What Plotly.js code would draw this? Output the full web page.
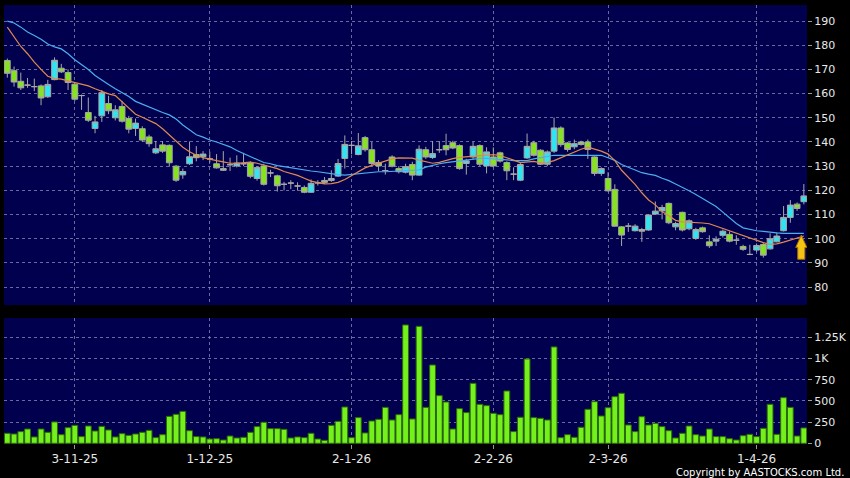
<!DOCTYPE html>
<html><head><meta charset="utf-8">
<script src="https://cdn.plot.ly/plotly-3.0.1.min.js"></script>
<style>html,body{margin:0;padding:0;background:#000;}#chart{width:850px;height:478px;}</style>
</head><body><div id="chart"></div>
<script>
// ---- data ----
const opens = [173.7,169.5,165.1,163.5,162.9,163.2,158.7,165.8,170.5,168.7,163.9,159.2,152.2,145.6,150.8,155.9,150.0,154.7,149.7,145.6,
145.5,142.1,135.5,138.8,138.6,130.0,126.4,131.0,134.8,133.9,133.0,131.0,129.0,130.6,130.1,131.0,131.3,124.9,130.1,127.2,
126.0,122.5,123.0,121.8,121.2,119.2,123.1,124.1,124.1,125.9,133.2,138.6,134.8,141.8,136.8,131.5,128.2,133.8,129.0,127.5,
130.7,126.3,136.8,133.6,136.8,138.5,139.7,138.5,131.1,133.8,138.5,130.1,133.8,135.5,131.5,126.7,124.2,133.4,139.7,136.6,
130.8,136.2,145.8,139.6,138.0,140.0,140.0,133.8,127.0,124.9,120.4,104.9,105.2,103.3,103.8,103.6,110.2,111.5,114.6,104.9,
110.9,104.1,100.1,104.5,98.7,99.0,101.4,101.8,99.4,96.8,93.5,95.3,97.6,95.8,98.7,103.3,108.8,114.3,115.3];
const highs = [174.5,171.2,168.7,166.5,166.2,163.8,165.7,175.0,172.3,170.0,164.2,159.6,158.4,150.8,161.5,159.1,155.2,157.0,150.8,149.7,
146.5,143.0,140.4,140.4,139.0,130.5,129.0,140.2,138.3,136.2,136.0,135.0,136.2,133.5,134.5,135.5,132.0,130.0,131.0,128.5,
126.5,123.5,124.2,123.3,122.0,124.5,124.2,125.5,128.3,133.0,142.7,140.4,143.7,142.5,140.0,132.5,131.0,134.5,130.0,131.0,
131.8,138.6,138.0,140.4,140.4,143.4,140.5,139.0,133.0,140.0,139.0,137.8,137.8,136.0,132.0,129.5,131.5,143.5,140.5,137.0,
136.5,150.1,146.5,140.0,141.0,140.5,141.0,134.0,129.5,127.5,122.5,105.2,106.5,106.0,104.5,110.0,115.4,114.0,115.0,107.0,
111.2,108.0,104.5,105.0,101.4,101.0,103.8,103.0,101.4,97.5,97.5,98.0,98.2,102.2,102.5,113.5,116.0,115.0,122.6];
const lows = [166.6,162.9,161.5,162.4,161.0,155.2,158.2,165.5,168.5,161.5,157.0,153.3,148.3,143.6,148.3,151.5,148.9,148.0,143.6,142.5,
140.0,138.0,135.0,135.5,129.8,123.5,124.8,130.5,132.0,132.5,131.5,129.0,128.0,128.0,129.5,130.0,125.0,124.0,122.0,125.5,
119.5,120.0,120.5,119.9,118.8,119.0,122.0,122.6,123.5,125.5,129.0,134.9,134.5,136.0,130.5,128.0,126.5,129.5,127.0,127.0,
124.2,126.0,133.0,133.0,135.5,134.5,137.0,128.5,126.5,133.0,130.0,127.0,129.5,131.5,124.2,124.2,123.8,133.0,134.0,130.5,
130.0,135.5,138.0,136.0,137.0,138.5,133.0,126.0,126.0,119.5,105.0,97.0,102.8,103.0,98.7,103.3,109.8,108.0,106.0,103.5,
103.0,103.5,99.5,102.5,96.2,97.0,100.5,98.5,97.5,95.0,93.2,94.5,92.2,95.5,98.5,103.0,106.6,111.5,114.2];
const closes = [168.4,164.8,162.4,163.5,162.9,158.2,163.8,173.8,169.0,164.6,157.7,159.2,149.0,148.3,160.4,152.9,153.3,148.6,145.3,147.8,
140.8,139.3,137.2,136.2,131.4,124.2,127.8,133.9,133.5,135.0,133.0,129.3,128.3,130.6,131.3,131.0,125.8,129.4,122.5,127.2,
121.9,122.5,123.0,121.8,119.2,122.9,123.1,123.3,124.9,131.1,139.0,138.6,138.4,136.8,131.1,130.1,128.2,130.0,127.7,129.8,
126.3,137.0,133.8,135.2,136.8,136.8,137.5,129.0,132.2,138.2,130.8,135.9,130.1,132.1,128.1,126.7,130.7,138.2,134.5,130.8,
135.9,145.8,138.9,136.9,139.3,139.0,136.9,127.0,129.0,119.8,105.2,101.5,105.2,105.2,103.1,109.8,111.4,112.9,106.6,106.3,
103.6,107.4,103.8,102.9,97.1,99.8,103.1,99.0,99.4,95.6,93.5,97.2,93.2,100.0,101.1,108.8,113.9,112.5,117.7];
const maShort = [187.5,183.5,179.5,176.5,173,170,167.2,166.2,166,165.3,164.5,163.9,163.2,162,160.8,159.9,159.2,156.5,154,151.5,
150.2,149,147.6,145.5,143,140.5,137.8,136,134.5,133.5,132.8,132.3,131.8,131.2,131.2,131.6,131.7,131.2,130.5,130,
129,127.8,127,126.2,125,123.8,123.2,122.7,122.8,123.3,124.5,126,127.6,129.3,130.3,131.3,132.3,133,133.4,133.4,
133.3,132.5,131.7,131.2,131.6,132.4,133.1,133.6,133.9,134.1,134.3,134.6,134.8,134.4,133.6,132.5,131.5,131.6,132,131.4,
131.5,132.3,133.5,134.5,135.8,137,137.9,137.2,136.2,135,132.3,128.3,125.4,122.5,119,116,114,111.2,109.5,107.6,
107,106.9,106.7,106.5,106.2,105.2,104.3,103.4,102.5,101.5,100.3,99.2,98.4,97.7,97.9,98.6,99.4,100.3,101.1];
const maLong = [190,189.2,187.5,185.5,184,182.5,180.5,179.3,178.5,176.5,174,172,170,167.5,165.5,163.8,162,160.5,158.8,156.8,
155.6,154.5,153.3,152.2,151.2,149.5,147,145,143,142,140.8,140,139,138,136.5,135.2,133.8,132.7,131.5,131,
130.2,129.8,129.3,128.9,128.5,128,127.7,127.2,126.8,126.5,126.3,126.6,127,127.4,127.6,127.7,127.7,127.8,128,128.1,
128.1,128.5,129.6,130.4,131,131.5,131.9,132.2,132.6,133,133.2,133.2,133.1,132.9,132.6,132.3,132.2,132.3,133,133.6,
134,134.5,134.5,134.5,134.5,134.5,134.5,134.5,134.5,133.5,132.4,130.7,129.5,128.3,127.3,126.7,126.2,125,124,122.6,
121.3,119.8,118.3,116.6,114.8,113.3,111,108.5,106.3,104.5,103.8,103.3,103,102.6,102.4,102.2,102.2,102.2,102.2];
const volumes = [118,110,138,169,75,169,130,252,102,185,212,79,204,145,200,157,
75,114,94,110,130,153,67,102,318,342,377,149,79,75,51,55,39,86,63,71,130,197,248,173,173,165,63,75,67,118,51,35,212,259,428,67,303,122,263,283,424,275,338,1395,287,1379,424,
923,562,487,169,409,362,707,460,444,354,338,617,138,307,994,303,295,275,1136,67,102,71,189,401,491,322,420,550,590,216,138,314,216,236,197,149,63,118,204,102,86,169,79,79,55,39,90,106,79,177,460,106,538,424,86,181];
const tickIdx = [10,30,51,72,89,111];
const tickLabels = ['3-11-25','1-12-25','2-1-26','2-2-26','2-3-26','1-4-26'];
const priceTicks = [80,90,100,110,120,130,140,150,160,170,180,190];
const volTicks = [0,250,500,750,1000,1250];
const volTickLabels = ['0','250','500','750','1K','1.25K'];

const idx = closes.map((_, i) => i);
const gridColor = 'rgba(140,140,185,0.75)';
const tickFont = {family:'DejaVu Sans', size:11, color:'#e8e8e8'};

const traces = [
  {type:'candlestick', x:idx, open:opens, high:highs, low:lows, close:closes,
   xaxis:'x', yaxis:'y', hoverinfo:'skip',
   increasing:{line:{color:'#a8a8a8', width:1}, fillcolor:'#30e4f2'},
   decreasing:{line:{color:'#a8a8a8', width:1}, fillcolor:'#86e41e'}},
  {type:'scatter', mode:'lines', x:idx, y:maLong, xaxis:'x', yaxis:'y',
   line:{color:'#4aaef0', width:1.2}, hoverinfo:'skip'},
  {type:'scatter', mode:'lines', x:idx, y:maShort, xaxis:'x', yaxis:'y',
   line:{color:'#e08850', width:1.2}, hoverinfo:'skip'},
  {type:'bar', x:idx, y:volumes, xaxis:'x', yaxis:'y2',
   marker:{color:'#74f01c', line:{color:'#2c6a08', width:1}}, hoverinfo:'skip'}
];

const layout = {
  width:850, height:478,
  paper_bgcolor:'#000', plot_bgcolor:'#00004e',
  margin:{l:4, r:43, t:5, b:34},
  showlegend:false,
  boxgap:0.1, boxgroupgap:0.05,
  bargap:0.14,
  xaxis:{range:[-0.49,118.47], anchor:'y2', tickvals:tickIdx, ticktext:tickLabels,
    showgrid:true, gridcolor:gridColor, griddash:'3px,3px', gridwidth:1,
    ticks:'outside', ticklen:4, tickcolor:'#999', tickfont:{family:'DejaVu Sans', size:12, color:'#e8e8e8'},
    zeroline:false, showline:false, rangeslider:{visible:false}, fixedrange:true},
  yaxis:{domain:[0.3166,1], range:[72.58,196.65], side:'right', tickvals:priceTicks,
    showgrid:true, gridcolor:gridColor, griddash:'3px,3px', gridwidth:1,
    ticks:'outside', ticklen:4, tickcolor:'#999', tickfont:tickFont, zeroline:false, showline:false},
  yaxis2:{domain:[0,0.287], range:[-8,1477], side:'right', tickvals:volTicks, ticktext:volTickLabels,
    showgrid:true, gridcolor:gridColor, griddash:'3px,3px', gridwidth:1,
    ticks:'outside', ticklen:4, tickcolor:'#999', tickfont:tickFont, zeroline:false, showline:false},
  shapes:[
    {type:'path', xref:'x', yref:'y', layer:'above',
     path:'M 117.62 101.5 L 118.45 96.4 L 118.15 96.4 L 118.15 91.5 L 117.1 91.5 L 117.1 96.4 L 116.8 96.4 Z',
     fillcolor:'#f4c414', line:{color:'#a87000', width:1}}
  ],
  annotations:[
    {xref:'paper', yref:'paper', x:1.0486, y:-0.066, xanchor:'right', yanchor:'middle', showarrow:false,
     text:'Copyright by AASTOCKS.com Ltd.', font:{family:'DejaVu Sans', size:10, color:'#ffffff'}}
  ]
};

Plotly.newPlot('chart', traces, layout, {staticPlot:true, displayModeBar:false});
</script>
</body></html>
